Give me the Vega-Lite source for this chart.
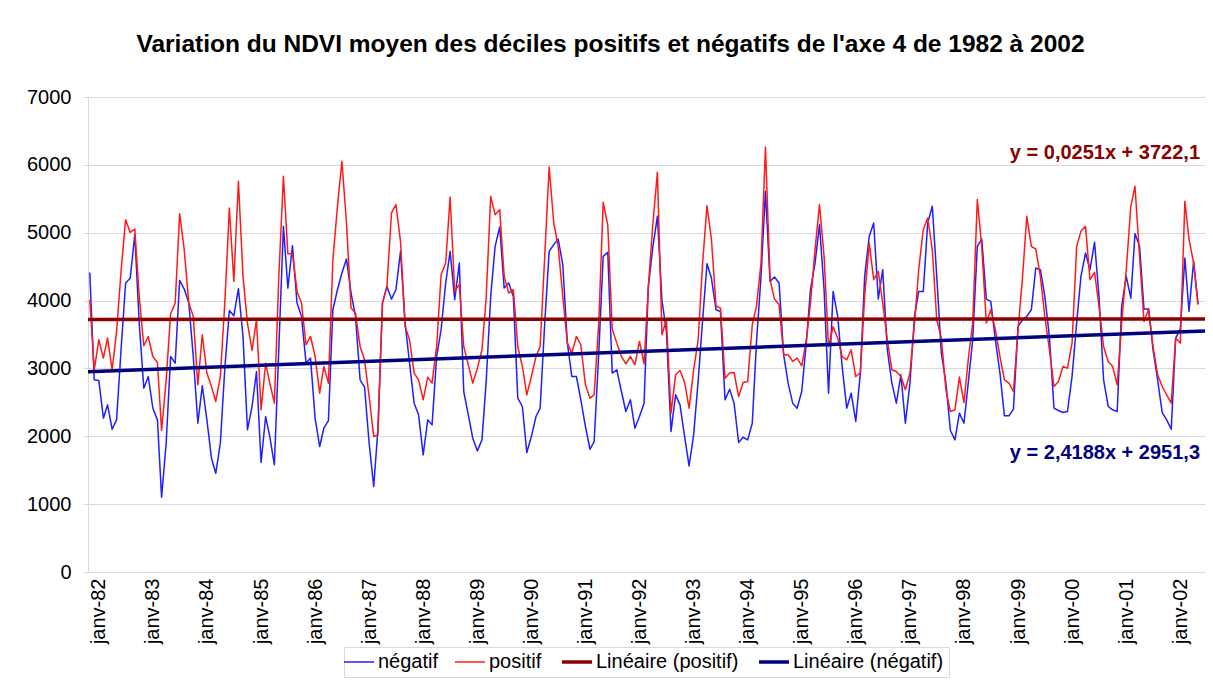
{
"$schema": "https://vega.github.io/schema/vega-lite/v6.json",
"width": 1117,
"height": 475,
"autosize": {"type": "none"},
"padding": {"left": 88, "top": 97, "right": 8, "bottom": 110},
"background": "white",
"title": {"text": "Variation du NDVI moyen des déciles positifs et négatifs de l'axe 4 de 1982 à 2002", "font": "Liberation Sans", "fontSize": 24.5, "fontWeight": "bold", "color": "#000000", "anchor": "middle", "dx": -36, "offset": 30},
"config": {"font": "Liberation Sans", "view": {"stroke": null}},
"datasets": {
"series": [
{"d":"1981-11-01","négatif":4415,"positif":4012},{"d":"1981-12-01","négatif":2832,"positif":2980},
{"d":"1982-01-01","négatif":2822,"positif":3422},{"d":"1982-02-01","négatif":2267,"positif":3152},{"d":"1982-03-01","négatif":2463,"positif":3447},{"d":"1982-04-01","négatif":2104,"positif":2980},{"d":"1982-05-01","négatif":2242,"positif":3545},{"d":"1982-06-01","négatif":3300,"positif":4455},{"d":"1982-07-01","négatif":4260,"positif":5192},{"d":"1982-08-01","négatif":4330,"positif":5005},{"d":"1982-09-01","négatif":4971,"positif":5055},{"d":"1982-10-01","négatif":3668,"positif":4061},{"d":"1982-11-01","négatif":2709,"positif":3334},{"d":"1982-12-01","négatif":2881,"positif":3471},
{"d":"1983-01-01","négatif":2414,"positif":3176},{"d":"1983-02-01","négatif":2242,"positif":3088},{"d":"1983-03-01","négatif":1101,"positif":2085},{"d":"1983-04-01","négatif":1898,"positif":2832},{"d":"1983-05-01","négatif":3176,"positif":3806},{"d":"1983-06-01","négatif":3078,"positif":3963},{"d":"1983-07-01","négatif":4297,"positif":5281},{"d":"1983-08-01","négatif":4170,"positif":4750},{"d":"1983-09-01","négatif":3963,"positif":3963},{"d":"1983-10-01","négatif":3176,"positif":3767},{"d":"1983-11-01","négatif":2193,"positif":2758},{"d":"1983-12-01","négatif":2744,"positif":3496},
{"d":"1984-01-01","négatif":2242,"positif":2931},{"d":"1984-02-01","négatif":1677,"positif":2734},{"d":"1984-03-01","négatif":1455,"positif":2513},{"d":"1984-04-01","négatif":1898,"positif":2881},{"d":"1984-05-01","négatif":3000,"positif":3963},{"d":"1984-06-01","négatif":3855,"positif":5365},{"d":"1984-07-01","négatif":3776,"positif":4283},{"d":"1984-08-01","négatif":4175,"positif":5758},{"d":"1984-09-01","négatif":3471,"positif":4357},{"d":"1984-10-01","négatif":2095,"positif":3668},{"d":"1984-11-01","négatif":2439,"positif":3265},{"d":"1984-12-01","négatif":2955,"positif":3717},
{"d":"1985-01-01","négatif":1613,"positif":2390},{"d":"1985-02-01","négatif":2291,"positif":3078},{"d":"1985-03-01","négatif":1996,"positif":2783},{"d":"1985-04-01","négatif":1580,"positif":2488},{"d":"1985-05-01","négatif":3300,"positif":4357},{"d":"1985-06-01","négatif":5094,"positif":5831},{"d":"1985-07-01","négatif":4184,"positif":4691},{"d":"1985-08-01","négatif":4809,"positif":4691},{"d":"1985-09-01","négatif":3963,"positif":4135},{"d":"1985-10-01","négatif":3767,"positif":3963},{"d":"1985-11-01","négatif":3078,"positif":3349},{"d":"1985-12-01","négatif":3152,"positif":3471},
{"d":"1986-01-01","négatif":2267,"positif":3176},{"d":"1986-02-01","négatif":1849,"positif":2636},{"d":"1986-03-01","négatif":2119,"positif":3029},{"d":"1986-04-01","négatif":2232,"positif":2783},{"d":"1986-05-01","négatif":3865,"positif":4602},{"d":"1986-06-01","négatif":4160,"positif":5389},{"d":"1986-07-01","négatif":4406,"positif":6053},{"d":"1986-08-01","négatif":4612,"positif":5143},{"d":"1986-09-01","négatif":4111,"positif":3889},{"d":"1986-10-01","négatif":3767,"positif":3815},{"d":"1986-11-01","négatif":2832,"positif":3324},{"d":"1986-12-01","négatif":2724,"positif":3127},
{"d":"1987-01-01","négatif":1898,"positif":2586},{"d":"1987-02-01","négatif":1259,"positif":1996},{"d":"1987-03-01","négatif":2095,"positif":2021},{"d":"1987-04-01","négatif":3963,"positif":3963},{"d":"1987-05-01","négatif":4209,"positif":4209},{"d":"1987-06-01","négatif":4022,"positif":5291},{"d":"1987-07-01","négatif":4160,"positif":5414},{"d":"1987-08-01","négatif":4725,"positif":4868},{"d":"1987-09-01","négatif":3668,"positif":3619},{"d":"1987-10-01","négatif":3078,"positif":3422},{"d":"1987-11-01","négatif":2488,"positif":2931},{"d":"1987-12-01","négatif":2316,"positif":2832},
{"d":"1988-01-01","négatif":1726,"positif":2537},{"d":"1988-02-01","négatif":2242,"positif":2872},{"d":"1988-03-01","négatif":2168,"positif":2783},{"d":"1988-04-01","négatif":3176,"positif":3324},{"d":"1988-05-01","négatif":3570,"positif":4381},{"d":"1988-06-01","négatif":4258,"positif":4553},{"d":"1988-07-01","négatif":4725,"positif":5526},{"d":"1988-08-01","négatif":4012,"positif":4135},{"d":"1988-09-01","négatif":4553,"positif":4234},{"d":"1988-10-01","négatif":2660,"positif":3324},{"d":"1988-11-01","négatif":2316,"positif":3053},{"d":"1988-12-01","négatif":1971,"positif":2783},
{"d":"1989-01-01","négatif":1785,"positif":3004},{"d":"1989-02-01","négatif":1947,"positif":3275},{"d":"1989-03-01","négatif":2783,"positif":4012},{"d":"1989-04-01","négatif":4061,"positif":5536},{"d":"1989-05-01","négatif":4799,"positif":5266},{"d":"1989-06-01","négatif":5084,"positif":5340},{"d":"1989-07-01","négatif":4184,"positif":4357},{"d":"1989-08-01","négatif":4258,"positif":4111},{"d":"1989-09-01","négatif":4061,"positif":4160},{"d":"1989-10-01","négatif":2562,"positif":3319},{"d":"1989-11-01","négatif":2439,"positif":3029},{"d":"1989-12-01","négatif":1760,"positif":2611},
{"d":"1990-01-01","négatif":1996,"positif":2881},{"d":"1990-02-01","négatif":2291,"positif":3176},{"d":"1990-03-01","négatif":2414,"positif":3324},{"d":"1990-04-01","négatif":3668,"positif":4652},{"d":"1990-05-01","négatif":4725,"positif":5969},{"d":"1990-06-01","négatif":4824,"positif":5143},{"d":"1990-07-01","négatif":4907,"positif":4799},{"d":"1990-08-01","négatif":4529,"positif":4061},{"d":"1990-09-01","négatif":3373,"positif":3373},{"d":"1990-10-01","négatif":2881,"positif":3226},{"d":"1990-11-01","négatif":2881,"positif":3471},{"d":"1990-12-01","négatif":2537,"positif":3349},
{"d":"1991-01-01","négatif":2144,"positif":2758},{"d":"1991-02-01","négatif":1809,"positif":2562},{"d":"1991-03-01","négatif":1922,"positif":2611},{"d":"1991-04-01","négatif":3226,"positif":3668},{"d":"1991-05-01","négatif":4652,"positif":5448},{"d":"1991-06-01","négatif":4711,"positif":5113},{"d":"1991-07-01","négatif":2931,"positif":3580},{"d":"1991-08-01","négatif":2980,"positif":3373},{"d":"1991-09-01","négatif":2660,"positif":3176},{"d":"1991-10-01","négatif":2365,"positif":3068},{"d":"1991-11-01","négatif":2537,"positif":3176},{"d":"1991-12-01","négatif":2119,"positif":3053},
{"d":"1992-01-01","négatif":2291,"positif":3398},{"d":"1992-02-01","négatif":2488,"positif":3068},{"d":"1992-03-01","négatif":4209,"positif":4209},{"d":"1992-04-01","négatif":4799,"positif":5143},{"d":"1992-05-01","négatif":5241,"positif":5890},{"d":"1992-06-01","négatif":4000,"positif":3496},{"d":"1992-07-01","négatif":3545,"positif":3717},{"d":"1992-08-01","négatif":2070,"positif":2341},{"d":"1992-09-01","négatif":2611,"positif":2906},{"d":"1992-10-01","négatif":2463,"positif":2970},{"d":"1992-11-01","négatif":1996,"positif":2793},{"d":"1992-12-01","négatif":1564,"positif":2414},
{"d":"1993-01-01","négatif":2021,"positif":2980},{"d":"1993-02-01","négatif":2832,"positif":3433},{"d":"1993-03-01","négatif":3668,"positif":4504},{"d":"1993-04-01","négatif":4543,"positif":5399},{"d":"1993-05-01","négatif":4332,"positif":4907},{"d":"1993-06-01","négatif":3865,"positif":3924},{"d":"1993-07-01","négatif":3840,"positif":3889},{"d":"1993-08-01","négatif":2537,"positif":2857},{"d":"1993-09-01","négatif":2694,"positif":2931},{"d":"1993-10-01","négatif":2488,"positif":2940},{"d":"1993-11-01","négatif":1908,"positif":2586},{"d":"1993-12-01","négatif":1986,"positif":2793},
{"d":"1994-01-01","négatif":1947,"positif":2808},{"d":"1994-02-01","négatif":2193,"positif":3643},{"d":"1994-03-01","négatif":3373,"positif":3914},{"d":"1994-04-01","négatif":4357,"positif":4553},{"d":"1994-05-01","négatif":5610,"positif":6264},{"d":"1994-06-01","négatif":4283,"positif":4308},{"d":"1994-07-01","négatif":4347,"positif":4022},{"d":"1994-08-01","négatif":4258,"positif":3939},{"d":"1994-09-01","négatif":3201,"positif":3201},{"d":"1994-10-01","négatif":2783,"positif":3201},{"d":"1994-11-01","négatif":2488,"positif":3103},{"d":"1994-12-01","négatif":2414,"positif":3152},
{"d":"1995-01-01","négatif":2660,"positif":3039},{"d":"1995-02-01","négatif":3373,"positif":3422},{"d":"1995-03-01","négatif":4160,"positif":3963},{"d":"1995-04-01","négatif":4553,"positif":4750},{"d":"1995-05-01","négatif":5118,"positif":5414},{"d":"1995-06-01","négatif":4160,"positif":4652},{"d":"1995-07-01","négatif":2636,"positif":3319},{"d":"1995-08-01","négatif":4135,"positif":3614},{"d":"1995-09-01","négatif":3767,"positif":3447},{"d":"1995-10-01","négatif":3029,"positif":3176},{"d":"1995-11-01","négatif":2414,"positif":3127},{"d":"1995-12-01","négatif":2636,"positif":3275},
{"d":"1996-01-01","négatif":2218,"positif":2881},{"d":"1996-02-01","négatif":2931,"positif":2940},{"d":"1996-03-01","négatif":4357,"positif":4061},{"d":"1996-04-01","négatif":4946,"positif":4848},{"d":"1996-05-01","négatif":5143,"positif":4308},{"d":"1996-06-01","négatif":4022,"positif":4430},{"d":"1996-07-01","négatif":4455,"positif":3963},{"d":"1996-08-01","négatif":3275,"positif":3422},{"d":"1996-09-01","négatif":2783,"positif":2980},{"d":"1996-10-01","négatif":2488,"positif":2955},{"d":"1996-11-01","négatif":2906,"positif":2881},{"d":"1996-12-01","négatif":2193,"positif":2685},
{"d":"1997-01-01","négatif":2783,"positif":2931},{"d":"1997-02-01","négatif":3767,"positif":3668},{"d":"1997-03-01","négatif":4135,"positif":4455},{"d":"1997-04-01","négatif":4135,"positif":5045},{"d":"1997-05-01","négatif":5143,"positif":5217},{"d":"1997-06-01","négatif":5389,"positif":4750},{"d":"1997-07-01","négatif":4357,"positif":3717},{"d":"1997-08-01","négatif":3226,"positif":3447},{"d":"1997-09-01","négatif":2783,"positif":2685},{"d":"1997-10-01","négatif":2085,"positif":2365},{"d":"1997-11-01","négatif":1947,"positif":2390},{"d":"1997-12-01","négatif":2341,"positif":2872},
{"d":"1998-01-01","négatif":2193,"positif":2498},{"d":"1998-02-01","négatif":2832,"positif":3176},{"d":"1998-03-01","négatif":3422,"positif":3668},{"d":"1998-04-01","négatif":4799,"positif":5488},{"d":"1998-05-01","négatif":4907,"positif":4799},{"d":"1998-06-01","négatif":4022,"positif":3668},{"d":"1998-07-01","négatif":3988,"positif":3864},{"d":"1998-08-01","négatif":3422,"positif":3570},{"d":"1998-09-01","négatif":2931,"positif":3176},{"d":"1998-10-01","négatif":2301,"positif":2832},{"d":"1998-11-01","négatif":2301,"positif":2783},{"d":"1998-12-01","négatif":2400,"positif":2660},
{"d":"1999-01-01","négatif":3619,"positif":3570},{"d":"1999-02-01","négatif":3717,"positif":4357},{"d":"1999-03-01","négatif":3767,"positif":5241},{"d":"1999-04-01","négatif":3865,"positif":4799},{"d":"1999-05-01","négatif":4479,"positif":4760},{"d":"1999-06-01","négatif":4455,"positif":4357},{"d":"1999-07-01","négatif":4061,"positif":3767},{"d":"1999-08-01","négatif":3471,"positif":3275},{"d":"1999-09-01","négatif":2414,"positif":2734},{"d":"1999-10-01","négatif":2380,"positif":2808},{"d":"1999-11-01","négatif":2350,"positif":3029},{"d":"1999-12-01","négatif":2365,"positif":3004},
{"d":"2000-01-01","négatif":2881,"positif":3373},{"d":"2000-02-01","négatif":3668,"positif":4799},{"d":"2000-03-01","négatif":4357,"positif":5020},{"d":"2000-04-01","négatif":4701,"positif":5094},{"d":"2000-05-01","négatif":4455,"positif":4308},{"d":"2000-06-01","négatif":4858,"positif":4416},{"d":"2000-07-01","négatif":4061,"positif":3914},{"d":"2000-08-01","négatif":2832,"positif":3324},{"d":"2000-09-01","négatif":2439,"positif":3103},{"d":"2000-10-01","négatif":2390,"positif":3029},{"d":"2000-11-01","négatif":2365,"positif":2758},{"d":"2000-12-01","négatif":3914,"positif":3668},
{"d":"2001-01-01","négatif":4357,"positif":4455},{"d":"2001-02-01","négatif":4036,"positif":5389},{"d":"2001-03-01","négatif":4986,"positif":5684},{"d":"2001-04-01","négatif":4799,"positif":4652},{"d":"2001-05-01","négatif":3875,"positif":3693},{"d":"2001-06-01","négatif":3875,"positif":3875},{"d":"2001-07-01","négatif":3275,"positif":3324},{"d":"2001-08-01","négatif":2832,"positif":2906},{"d":"2001-09-01","négatif":2350,"positif":2734},{"d":"2001-10-01","négatif":2242,"positif":2611},{"d":"2001-11-01","négatif":2104,"positif":2488},{"d":"2001-12-01","négatif":3447,"positif":3447},
{"d":"2002-01-01","négatif":3580,"positif":3373},{"d":"2002-02-01","négatif":4627,"positif":5463},{"d":"2002-03-01","négatif":3840,"positif":4907},{"d":"2002-04-01","négatif":4578,"positif":4553},{"d":"2002-05-01","négatif":3950,"positif":3939}
],
"trends": [
{"d":"1981-10-20","serie":"Linéaire (positif)","ndvi":3722.1},{"d":"2002-06-17","serie":"Linéaire (positif)","ndvi":3728.3},
{"d":"1981-10-20","serie":"Linéaire (négatif)","ndvi":2952.8},{"d":"2002-06-17","serie":"Linéaire (négatif)","ndvi":3551.9}
]
},
"layer": [
{
"data": {"name": "series"},
"transform": [{"fold": ["négatif", "positif"], "as": ["serie", "ndvi"]}],
"mark": {"type": "line", "strokeJoin": "round", "strokeWidth": 1.5},
"encoding": {
"x": {"field": "d", "type": "temporal",
"scale": {"type": "utc", "domain": ["1981-10-20", "2002-06-17"]},
"axis": {"title": null, "format": "janv-%y", "tickCount": {"interval": "year", "step": 1}, "labelAngle": 270, "labelFontSize": 20, "labelColor": "#000000", "labelFont": "Liberation Sans", "grid": false, "ticks": false, "domain": true, "domainColor": "#d9d9d9", "labelPadding": 6, "labelOverlap": false, "labelFlush": false, "labelBound": false}},
"y": {"field": "ndvi", "type": "quantitative",
"scale": {"domain": [0, 7000], "nice": false},
"axis": {"title": null, "values": [0,1000,2000,3000,4000,5000,6000,7000], "format": "d", "labelFontSize": 20, "labelColor": "#000000", "labelFont": "Liberation Sans", "grid": true, "gridColor": "#d9d9d9", "domainColor": "#d9d9d9", "tickColor": "#d9d9d9", "tickSize": 5, "labelPadding": 12}},
"color": {"field": "serie", "type": "nominal",
"scale": {"domain": ["négatif", "positif", "Linéaire (positif)", "Linéaire (négatif)"], "range": ["#1f1fff", "#ff1a1a", "#8b0000", "#000080"]},
"legend": {"title": null, "orient": "none", "legendX": 256, "legendY": 550, "direction": "horizontal", "symbolType": "stroke", "symbolSize": 900, "labelFontSize": 20, "labelFont": "Liberation Sans", "labelColor": "#000000", "strokeColor": "#d9d9d9", "padding": 5, "columnPadding": 13, "labelOffset": 9,
"encode": {"symbols": {"update": {"strokeWidth": {"signal": "indexof(['Linéaire (positif)', 'Linéaire (négatif)'], datum.value) >= 0 ? 3.5 : 1.5"}}}}}}
}
},
{
"data": {"name": "trends"},
"mark": {"type": "line", "strokeWidth": 3.5},
"encoding": {
"x": {"field": "d", "type": "temporal"},
"y": {"field": "ndvi", "type": "quantitative"},
"color": {"field": "serie", "type": "nominal"}
}
},
{
"data": {"values": [{"d": "2002-05-01", "ndvi": 6180, "eq": "y = 0,0251x + 3722,1"}]},
"mark": {"type": "text", "align": "right", "baseline": "middle", "fontSize": 20, "fontWeight": "bold", "font": "Liberation Sans", "color": "#8b0000", "dx": 2},
"encoding": {"x": {"field": "d", "type": "temporal"}, "y": {"field": "ndvi", "type": "quantitative"}, "text": {"field": "eq"}}
},
{
"data": {"values": [{"d": "2002-05-01", "ndvi": 1750, "eq": "y = 2,4188x + 2951,3"}]},
"mark": {"type": "text", "align": "right", "baseline": "middle", "fontSize": 20, "fontWeight": "bold", "font": "Liberation Sans", "color": "#000080", "dx": 2},
"encoding": {"x": {"field": "d", "type": "temporal"}, "y": {"field": "ndvi", "type": "quantitative"}, "text": {"field": "eq"}}
}
]
}
